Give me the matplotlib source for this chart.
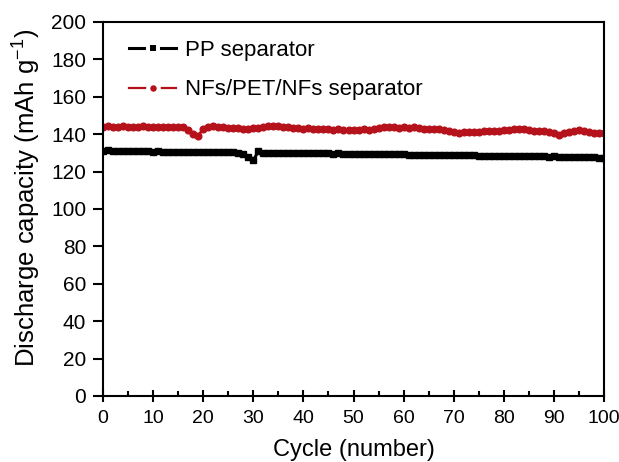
import matplotlib
matplotlib.use("Agg")
import matplotlib.pyplot as plt
import numpy as np
from matplotlib.ticker import MultipleLocator
from matplotlib.lines import Line2D

plt.rcParams['font.family'] = ['Liberation Sans', 'DejaVu Sans']
plt.rcParams['mathtext.default'] = 'regular'

cycles = list(range(0, 101))
pp_capacity = [131.0,131.3,131.2,131.0,131.1,130.9,130.9,130.8,130.9,130.8,130.7,130.8,130.7,130.7,130.6,130.7,130.6,130.6,130.5,130.6,130.5,130.5,130.4,130.5,130.4,130.3,130.4,130.2,
               129.4,128.0,126.0,
               130.8,130.2,
               130.0,130.0,129.9,130.0,129.9,129.8,129.9,129.8,129.8,129.7,129.8,129.7,129.7,129.6,129.7,129.6,129.6,129.5,
               129.5,129.4,129.4,129.3,129.4,129.3,129.2,129.3,129.2,129.2,129.1,129.1,129.0,129.1,129.0,128.9,129.0,128.9,128.8,128.9,128.8,128.7,128.8,128.7,128.6,
               128.6,128.5,128.6,128.5,128.4,128.4,128.3,128.4,128.3,128.2,128.2,128.1,128.2,128.0,128.1,128.0,127.9,127.9,127.8,127.8,127.7,127.6,127.6,127.5,127.4]
nf_capacity = [144.0,144.2,144.1,144.0,144.2,144.1,144.0,144.1,144.2,144.0,144.1,143.9,144.0,143.9,143.8,144.0,143.8,
               142.5,140.0,139.2,142.8,
               144.0,144.2,144.0,143.8,143.5,143.3,143.2,143.0,143.0,143.2,143.5,144.0,144.6,144.5,144.2,143.8,143.6,143.5,143.3,143.0,
               143.2,143.0,142.8,143.0,142.6,142.4,142.6,142.3,142.0,142.2,142.4,142.6,142.5,143.0,143.2,143.6,144.0,143.8,143.5,143.6,
               143.4,143.6,143.4,143.0,142.9,143.0,142.9,142.5,141.6,141.2,140.8,141.0,141.0,141.2,141.0,141.5,141.8,141.6,141.8,142.0,
               142.5,142.8,143.0,142.8,142.3,141.6,141.5,141.6,141.4,140.6,139.8,140.5,141.2,141.6,142.0,141.8,141.2,140.8,140.6,140.4]
labels = ['PP separator', 'NFs/PET/NFs separator']
xticks = [0, 10, 20, 30, 40, 50, 60, 70, 80, 90, 100]
yticks = [0, 20, 40, 60, 80, 100, 120, 140, 160, 180, 200]

RED = '#B5121B'

fig = plt.figure(figsize=(6.19, 4.62), dpi=100)
ax = fig.add_axes([0.1664, 0.1429, 0.8094, 0.8095])

ax.plot(cycles, pp_capacity, color='black', marker='s', markersize=4.2, linewidth=2.2)
ax.plot(cycles, nf_capacity, color=RED, marker='o', markersize=4.8, linewidth=2.0)

ax.set_xlim(0, 100)
ax.set_ylim(0, 200)
ax.set_xticks(xticks)
ax.set_yticks(yticks)
ax.xaxis.set_minor_locator(MultipleLocator(5))
ax.tick_params(axis='x', which='major', direction='inout', length=8.5, width=1.5, labelsize=14, pad=6)
ax.tick_params(axis='x', which='minor', direction='in', length=3.5, width=1.5)
ax.tick_params(axis='y', which='major', direction='out', length=7, width=1.5, labelsize=15, pad=5)
for s in ax.spines.values():
    s.set_linewidth(1.5)

ax.set_xlabel('Cycle (number)', fontsize=17)
ax.xaxis.set_label_coords(0.5, -0.115)
ax.set_ylabel('Discharge capacity (mAh g$^{-1}$)', fontsize=18.5)
ax.yaxis.set_label_coords(-0.12, 0.53)

h1 = Line2D([], [], color='black', linewidth=2.2, marker='s', markersize=7.2,
            markerfacecolor='black', markeredgecolor='white', markeredgewidth=2.9)
h2 = Line2D([], [], color=RED, linewidth=1.6, marker='o', markersize=7.6,
            markerfacecolor=RED, markeredgecolor='white', markeredgewidth=2.9)
ax.legend([h1, h2], labels, loc='upper left', frameon=False, fontsize=16, handlelength=2.1,
          handletextpad=0.4, labelspacing=0.82, borderaxespad=0.0, bbox_to_anchor=(0.035, 0.975))

fig.savefig('out.png', dpi=100)
